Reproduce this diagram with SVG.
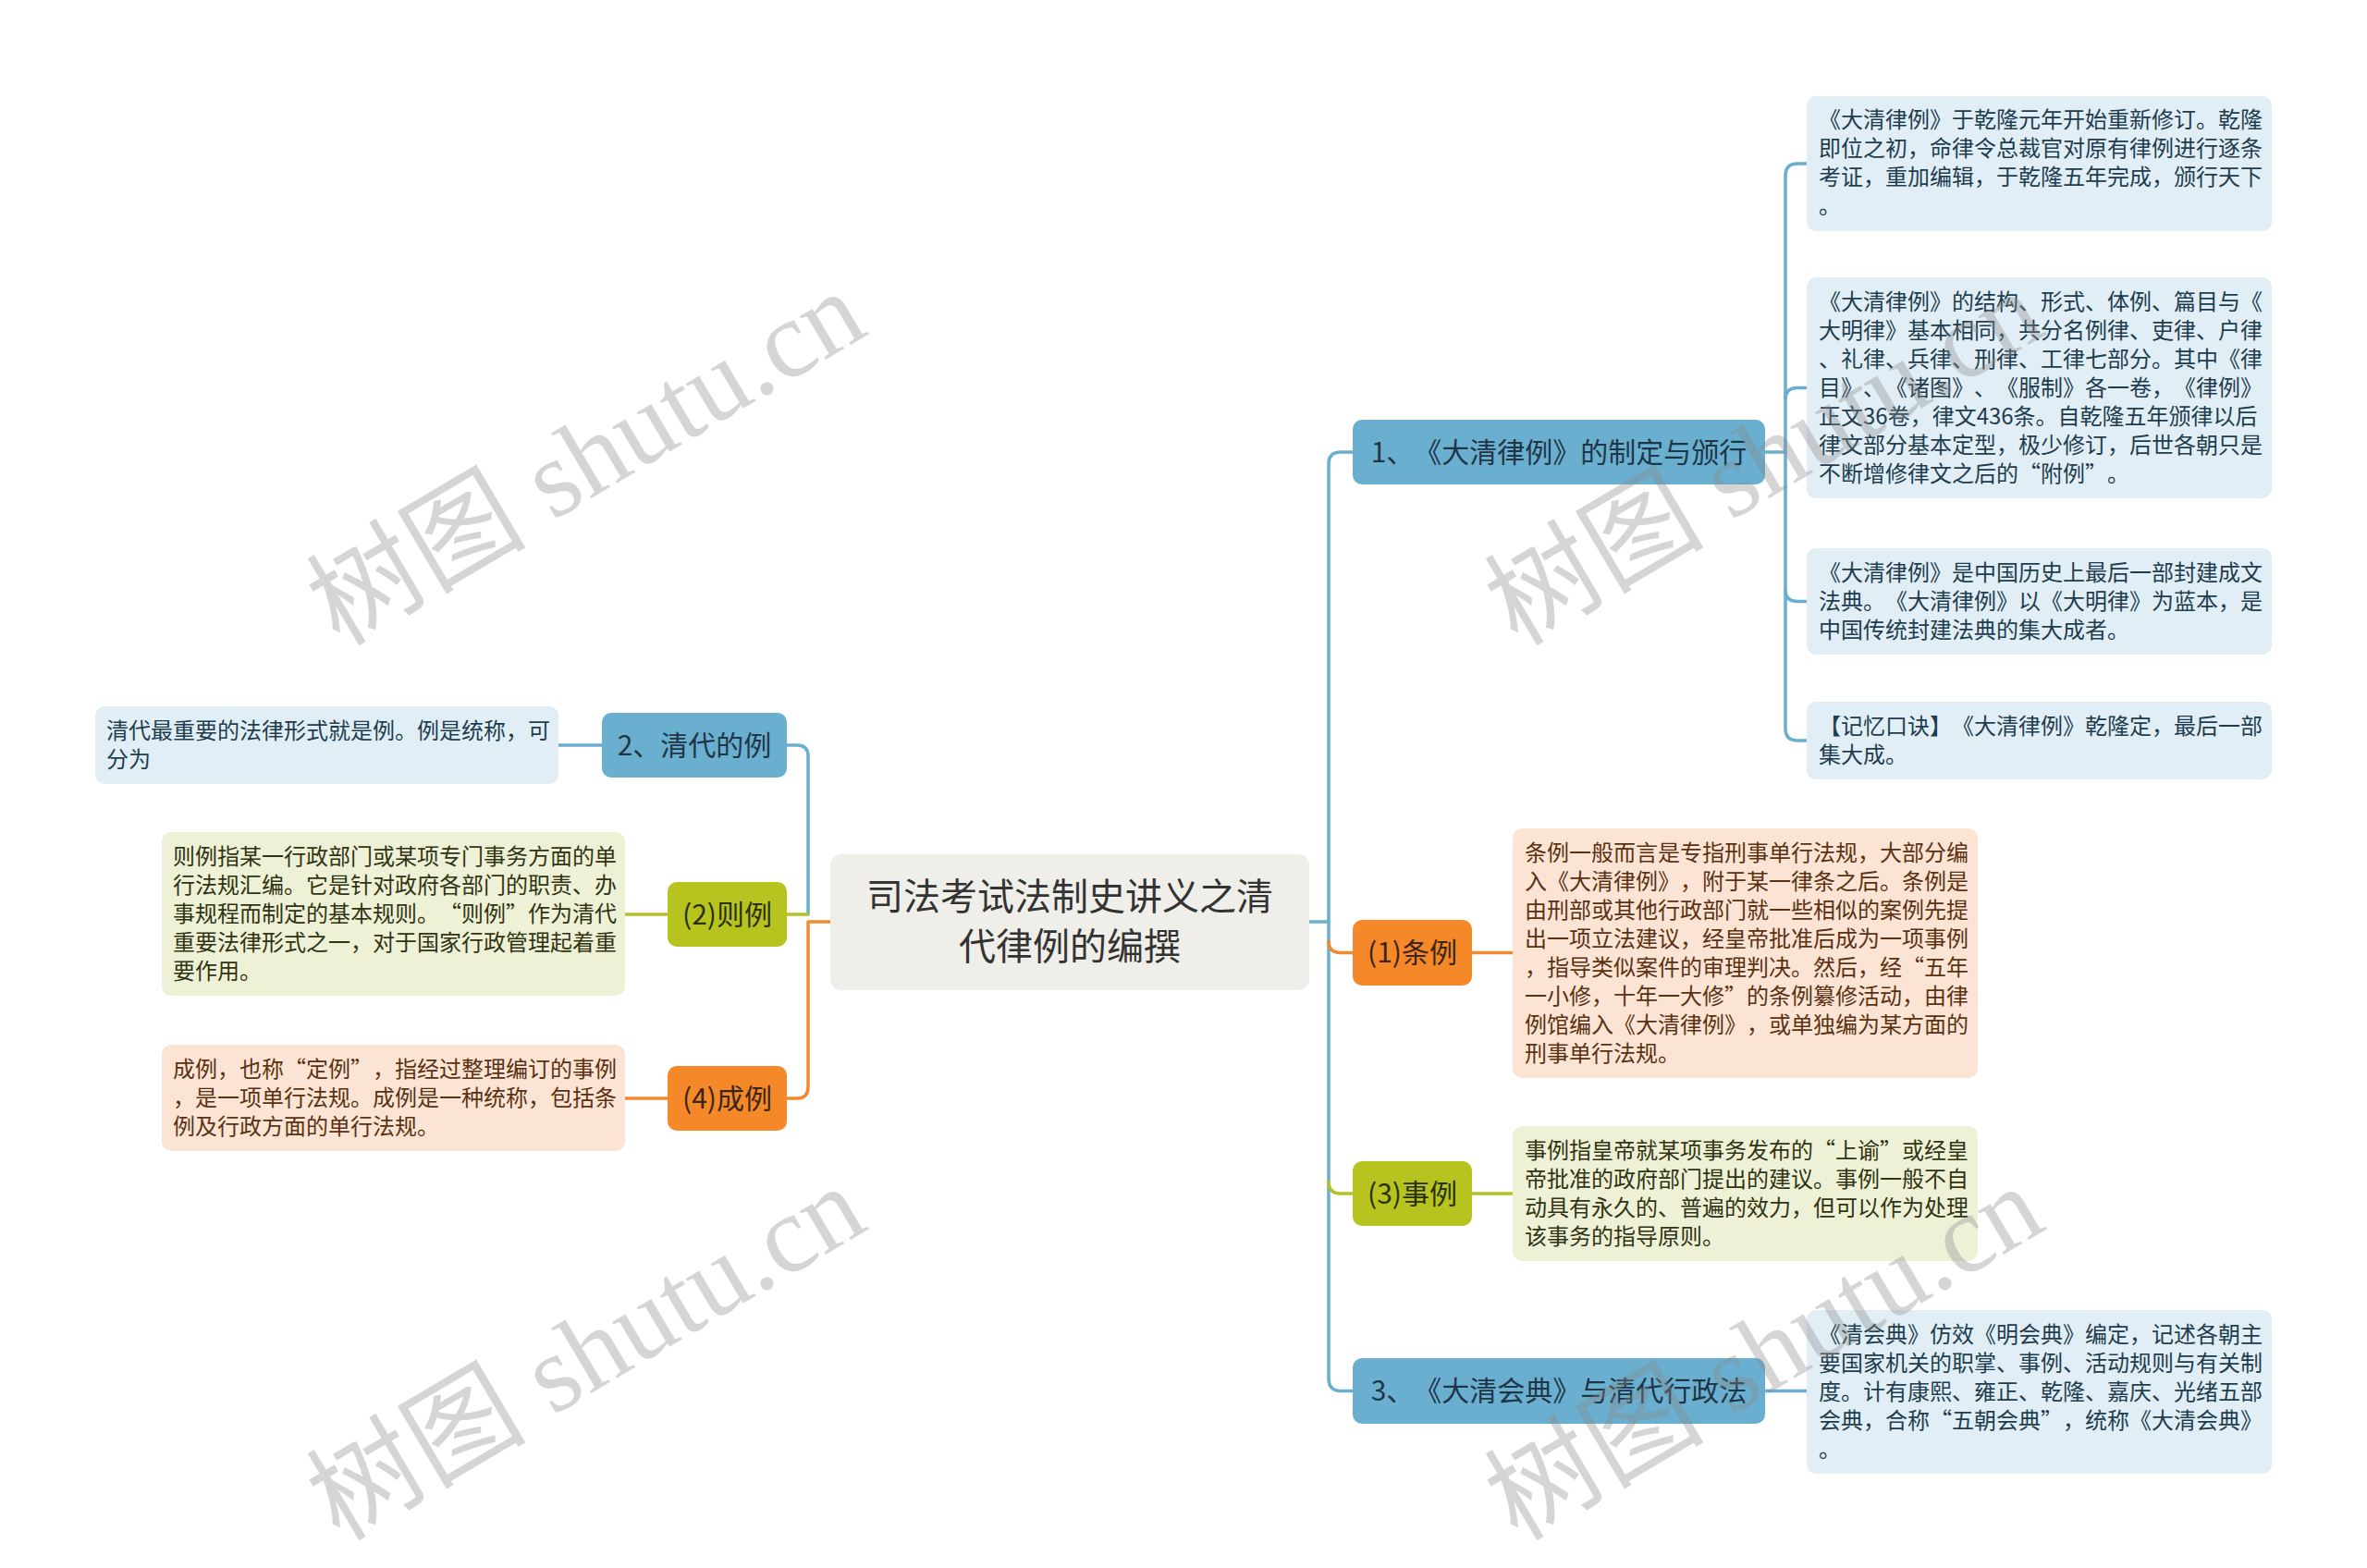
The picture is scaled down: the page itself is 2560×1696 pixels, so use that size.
<svg xmlns="http://www.w3.org/2000/svg" width="2560" height="1696" viewBox="0 0 2560 1696">
<style>
text{font-family:"Noto Sans CJK SC","Noto Sans",sans-serif;text-spacing-trim:space-all;}
.c{fill:none;stroke-width:3.5;stroke-linecap:round;stroke-linejoin:round;}
.cb{stroke:#6aafd0;}
.co{stroke:#f08a30;}
.cg{stroke:#b5c125;}
.nb{fill:#6aafd0;}
.no{fill:#f5892a;}
.ng{fill:#b7c41f;}
.lb{fill:#e1eef6;}
.lo{fill:#fce4d5;}
.lg{fill:#eff1d7;}
.root{fill:#efeee8;}
.tn{font-size:30px;fill:#1f3646;text-anchor:middle;}
.tno{font-size:30px;fill:#3b2616;text-anchor:middle;}
.tng{font-size:30px;fill:#2b300c;text-anchor:middle;}
.tr{font-size:40px;fill:#333333;text-anchor:middle;}
.tlb{font-size:24px;fill:#1e3d4e;}
.tlo{font-size:24px;fill:#5a3212;}
.tlg{font-size:24px;fill:#2f3412;}
.wm{font-family:"Liberation Serif","Noto Sans CJK SC",serif;font-size:119px;fill:#8a8a8a;opacity:0.35;}
</style>
<rect width="2560" height="1696" fill="#ffffff"/>
<g id="connectors">
<path class="c cb" d="M1416,997 H1437"/>
<path class="c cb" d="M1463,489 H1450 Q1437,489 1437,502 V1491 Q1437,1504.5 1450,1504.5 H1463"/>
<path class="c co" d="M1437,1018 Q1437,1030.5 1450,1030.5 H1463"/>
<path class="c cg" d="M1437,1278 Q1437,1291 1450,1291 H1463"/>
<path class="c cb" d="M1909,489 H1931"/>
<path class="c cb" d="M1954,177 H1944 Q1931,177 1931,190 V788 Q1931,801 1944,801 H1954"/>
<path class="c cb" d="M1931,432 Q1931,419.5 1944,419.5 H1954"/>
<path class="c cb" d="M1931,638 Q1931,650.5 1944,650.5 H1954"/>
<path class="c cb" d="M1909,1504.5 H1954"/>
<path class="c co" d="M1592,1030.5 H1636"/>
<path class="c cg" d="M1592,1291 H1636"/>
<path class="c cb" d="M851,806 H862 Q874,806 874,818 V989"/>
<path class="c cg" d="M851,989 H874"/>
<path class="c co" d="M898,997 H874 V1176 Q874,1188 862,1188 H851"/>
<path class="c cb" d="M651,806 H604"/>
<path class="c cg" d="M722,989 H676"/>
<path class="c co" d="M722,1188 H676"/>
</g>
<g id="root">
<rect class="root" x="898" y="924" width="518" height="147" rx="12"/>
<text class="tr" x="1157" y="984">司法考试法制史讲义之清</text>
<text class="tr" x="1157" y="1038">代律例的编撰</text>
</g>
<g id="b1">
<rect class="nb" x="1463" y="454" width="446" height="70" rx="10"/>
<text class="tn" x="1686" y="500">1、《大清律例》的制定与颁行</text>
</g>
<g id="b1-leaf1">
<rect class="lb" x="1954" y="104" width="503" height="146" rx="10"/>
<text class="tlb" x="1967"><tspan x="1967" y="138">《大清律例》于乾隆元年开始重新修订。乾隆</tspan><tspan x="1967" y="169">即位之初，命律令总裁官对原有律例进行逐条</tspan><tspan x="1967" y="200">考证，重加编辑，于乾隆五年完成，颁行天下</tspan><tspan x="1967" y="231">。</tspan></text>
</g>
<g id="b1-leaf2">
<rect class="lb" x="1954" y="300" width="503" height="239" rx="10"/>
<text class="tlb"><tspan x="1967" y="335">《大清律例》的结构、形式、体例、篇目与《</tspan><tspan x="1967" y="366">大明律》基本相同，共分名例律、吏律、户律</tspan><tspan x="1967" y="397">、礼律、兵律、刑律、工律七部分。其中《律</tspan><tspan x="1967" y="428">目》、《诸图》、《服制》各一卷，《律例》</tspan><tspan x="1967" y="459">正文36卷，律文436条。自乾隆五年颁律以后</tspan><tspan x="1967" y="490">律文部分基本定型，极少修订，后世各朝只是</tspan><tspan x="1967" y="521">不断增修律文之后的“附例”。</tspan></text>
</g>
<g id="b1-leaf3">
<rect class="lb" x="1954" y="593" width="503" height="115" rx="10"/>
<text class="tlb"><tspan x="1967" y="628">《大清律例》是中国历史上最后一部封建成文</tspan><tspan x="1967" y="659">法典。《大清律例》以《大明律》为蓝本，是</tspan><tspan x="1967" y="690">中国传统封建法典的集大成者。</tspan></text>
</g>
<g id="b1-leaf4">
<rect class="lb" x="1954" y="759" width="503" height="84" rx="10"/>
<text class="tlb"><tspan x="1967" y="794">【记忆口诀】《大清律例》乾隆定，最后一部</tspan><tspan x="1967" y="825">集大成。</tspan></text>
</g>
<g id="tiaoli">
<rect class="no" x="1463" y="995" width="129" height="71" rx="10"/>
<text class="tno" x="1527.5" y="1041">(1)条例</text>
</g>
<g id="tiaoli-leaf">
<rect class="lo" x="1636" y="896" width="503" height="270" rx="10"/>
<text class="tlo"><tspan x="1649" y="931">条例一般而言是专指刑事单行法规，大部分编</tspan><tspan x="1649" y="962">入《大清律例》，附于某一律条之后。条例是</tspan><tspan x="1649" y="993">由刑部或其他行政部门就一些相似的案例先提</tspan><tspan x="1649" y="1024">出一项立法建议，经皇帝批准后成为一项事例</tspan><tspan x="1649" y="1055">，指导类似案件的审理判决。然后，经“五年</tspan><tspan x="1649" y="1086">一小修，十年一大修”的条例纂修活动，由律</tspan><tspan x="1649" y="1117">例馆编入《大清律例》，或单独编为某方面的</tspan><tspan x="1649" y="1148">刑事单行法规。</tspan></text>
</g>
<g id="shili">
<rect class="ng" x="1463" y="1256" width="129" height="70" rx="10"/>
<text class="tng" x="1527.5" y="1302">(3)事例</text>
</g>
<g id="shili-leaf">
<rect class="lg" x="1636" y="1218" width="503" height="146" rx="10"/>
<text class="tlg"><tspan x="1649" y="1253">事例指皇帝就某项事务发布的“上谕”或经皇</tspan><tspan x="1649" y="1284">帝批准的政府部门提出的建议。事例一般不自</tspan><tspan x="1649" y="1315">动具有永久的、普遍的效力，但可以作为处理</tspan><tspan x="1649" y="1346">该事务的指导原则。</tspan></text>
</g>
<g id="b3">
<rect class="nb" x="1463" y="1469" width="446" height="71" rx="10"/>
<text class="tn" x="1686" y="1515">3、《大清会典》与清代行政法</text>
</g>
<g id="b3-leaf">
<rect class="lb" x="1954" y="1417" width="503" height="177" rx="10"/>
<text class="tlb"><tspan x="1967" y="1452">《清会典》仿效《明会典》编定，记述各朝主</tspan><tspan x="1967" y="1483">要国家机关的职掌、事例、活动规则与有关制</tspan><tspan x="1967" y="1514">度。计有康熙、雍正、乾隆、嘉庆、光绪五部</tspan><tspan x="1967" y="1545">会典，合称“五朝会典”，统称《大清会典》</tspan><tspan x="1967" y="1576">。</tspan></text>
</g>
<g id="b2">
<rect class="nb" x="651" y="771" width="200" height="70" rx="10"/>
<text class="tn" x="751" y="817">2、清代的例</text>
</g>
<g id="b2-leaf">
<rect class="lb" x="103" y="764" width="501" height="84" rx="10"/>
<text class="tlb"><tspan x="115" y="799">清代最重要的法律形式就是例。例是统称，可</tspan><tspan x="115" y="830">分为</tspan></text>
</g>
<g id="zeli">
<rect class="ng" x="722" y="954" width="129" height="70" rx="10"/>
<text class="tng" x="786.5" y="1000">(2)则例</text>
</g>
<g id="zeli-leaf">
<rect class="lg" x="175" y="900" width="501" height="177" rx="10"/>
<text class="tlg"><tspan x="187" y="935">则例指某一行政部门或某项专门事务方面的单</tspan><tspan x="187" y="966">行法规汇编。它是针对政府各部门的职责、办</tspan><tspan x="187" y="997">事规程而制定的基本规则。“则例”作为清代</tspan><tspan x="187" y="1028">重要法律形式之一，对于国家行政管理起着重</tspan><tspan x="187" y="1059">要作用。</tspan></text>
</g>
<g id="chengli">
<rect class="no" x="722" y="1153" width="129" height="70" rx="10"/>
<text class="tno" x="786.5" y="1199">(4)成例</text>
</g>
<g id="chengli-leaf">
<rect class="lo" x="175" y="1130" width="501" height="115" rx="10"/>
<text class="tlo"><tspan x="187" y="1165">成例，也称“定例”，指经过整理编订的事例</tspan><tspan x="187" y="1196">，是一项单行法规。成例是一种统称，包括条</tspan><tspan x="187" y="1227">例及行政方面的单行法规。</tspan></text>
</g>
<g id="watermarks">
<text class="wm" transform="translate(367,700) rotate(-30.6)">树图 shutu.cn</text>
<text class="wm" transform="translate(1641,700) rotate(-30.6)">树图 shutu.cn</text>
<text class="wm" transform="translate(367,1668) rotate(-30.6)">树图 shutu.cn</text>
<text class="wm" transform="translate(1641,1668) rotate(-30.6)">树图 shutu.cn</text>
</g>
</svg>
